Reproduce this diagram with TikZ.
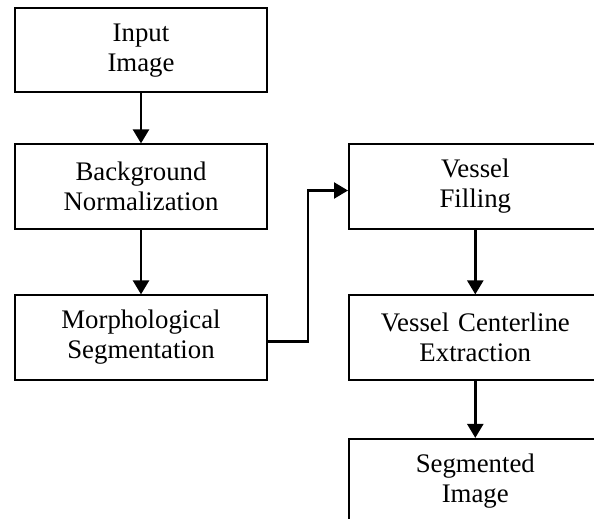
\documentclass[tikz,border=0pt]{standalone}
\usepackage{fontspec}
\setmainfont{Liberation Serif}
\usetikzlibrary{arrows.meta}
\begin{document}
\begin{tikzpicture}[x=1pt,y=-1pt,
  procbox/.style={draw=black, line width=2pt, minimum width=252.6pt, minimum height=84.2pt,
    inner sep=0pt, text width=250pt, align=center, font=\fontsize{26.8}{30}\selectfont},
  flow/.style={line width=2.4pt, -{Triangle[width=16pt,length=14pt]}}]
\useasboundingbox (0,0) rectangle (594,519);
\clip (0,0) rectangle (594,519);
\node[procbox] (b1) at (141,50.3) {Input\\Image};
\node[procbox] (b2) at (141,186.5) {Background\\Normalization};
\node[procbox] (b3) at (141,337.5) {Morphological\\Segmentation};
\node[procbox] (b4) at (475.3,186.5) {Vessel\\Filling};
\node[procbox] (b5) at (475.3,337.5) {Vessel Centerline\\Extraction};
\node[procbox] (b6) at (475.3,481) {Segmented\\Image};
\draw[flow] (b1) -- (b2);
\draw[flow] (b2) -- (b3);
\draw[flow] (b4) -- (b5);
\draw[flow] (b5) -- (b6);
\draw[flow] ([yshift=-4pt]b3.east) -- ++(39.4,0) |- ([yshift=-4pt]b4.west);
\end{tikzpicture}
\end{document}
